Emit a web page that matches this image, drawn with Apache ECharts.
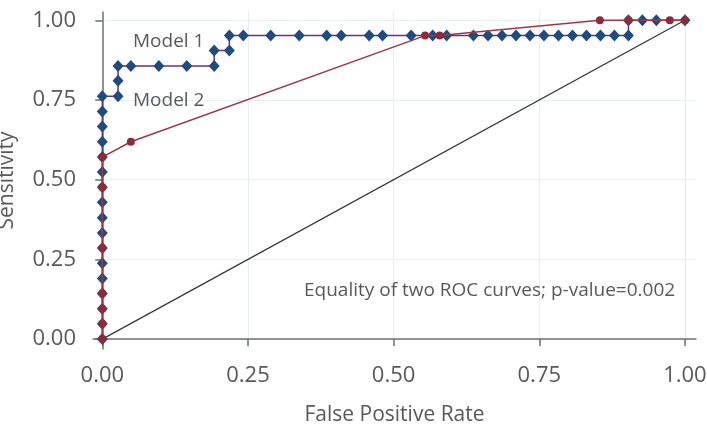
<!DOCTYPE html>
<html>
<head>
<meta charset="utf-8">
<script src="https://cdn.jsdelivr.net/npm/echarts@6/dist/echarts.min.js"></script>
<style>
  html, body { margin: 0; padding: 0; background: #fff; }
  #chart { width: 707px; height: 447px; }
</style>
</head>
<body>
<div id="chart"></div>
<script>
// ROC points
const model1Fpr = [0, 0, 0, 0, 0, 0, 0, 0, 0, 0, 0, 0, 0, 0, 0, 0, 0,
  0.027, 0.027, 0.027, 0.049, 0.097, 0.145, 0.192, 0.192, 0.218, 0.218, 0.242,
  0.289, 0.338, 0.385, 0.410, 0.458, 0.481, 0.530, 0.567, 0.591, 0.637, 0.662,
  0.686, 0.710, 0.734, 0.758, 0.783, 0.807, 0.831, 0.855, 0.879, 0.903, 0.903,
  0.927, 0.951, 1];
const model1Sens = [0, 0.048, 0.095, 0.143, 0.190, 0.238, 0.286, 0.333, 0.381, 0.429, 0.476, 0.524, 0.571, 0.619, 0.667, 0.714, 0.762,
  0.762, 0.810, 0.857, 0.857, 0.857, 0.857, 0.857, 0.905, 0.905, 0.952, 0.952,
  0.952, 0.952, 0.952, 0.952, 0.952, 0.952, 0.952, 0.952, 0.952, 0.952, 0.952,
  0.952, 0.952, 0.952, 0.952, 0.952, 0.952, 0.952, 0.952, 0.952, 0.952, 1,
  1, 1, 1];

const model2Fpr = [0, 0, 0, 0, 0, 0, 0, 0.049, 0.554, 0.579, 0.854, 0.903, 0.974, 1];
const model2Sens = [0, 0.048, 0.095, 0.143, 0.286, 0.476, 0.571, 0.619, 0.952, 0.952, 1, 1, 1, 1];

const refX = [0, 1];
const refY = [0, 1];

const tickValues = [0, 0.25, 0.5, 0.75, 1];

const font = '"Open Sans", "Noto Sans", sans-serif';
const textGrey = '#595959';

const zip = (xs, ys) => xs.map((x, i) => [x, ys[i]]);

const chart = echarts.init(document.getElementById('chart'));
chart.setOption({
  animation: false,
  backgroundColor: '#fff',
  grid: { left: 93, right: 11, top: 12, bottom: 98, outerBoundsMode: 'none', containLabel: false },
  xAxis: {
    type: 'value',
    min: -0.016,
    max: 1.019,
    name: 'False Positive Rate',
    nameLocation: 'middle',
    nameGap: 56,
    nameTextStyle: { color: textGrey, fontSize: 21, fontFamily: font },
    axisLine: { show: true, lineStyle: { color: '#707070', width: 1.5 } },
    axisTick: { show: true, length: 7, customValues: tickValues, lineStyle: { color: '#707070', width: 1.5 } },
    axisLabel: {
      customValues: tickValues, margin: 16, color: textGrey, fontSize: 22, fontFamily: font,
      formatter: v => v.toFixed(2)
    },
    splitLine: { show: true, lineStyle: { color: '#e6eef2', width: 1 } }
  },
  yAxis: {
    type: 'value',
    min: -0.031,
    max: 1.026,
    name: 'Sensitivity',
    nameLocation: 'middle',
    nameGap: 75,
    nameTextStyle: { color: textGrey, fontSize: 21, fontFamily: font },
    axisLine: { show: true, lineStyle: { color: '#707070', width: 1.5 } },
    axisTick: { show: true, length: 7, customValues: tickValues, lineStyle: { color: '#707070', width: 1.5 } },
    axisLabel: {
      customValues: tickValues, margin: 17, color: textGrey, fontSize: 22, fontFamily: font,
      formatter: v => v.toFixed(2)
    },
    splitLine: { show: true, lineStyle: { color: '#e6eef2', width: 1 } }
  },
  graphic: [
    { type: 'text', z: 100, left: 133, top: 32, style: { text: 'Model 1', fill: textGrey, fontSize: 19, fontFamily: font } },
    { type: 'text', z: 100, left: 133, top: 91, style: { text: 'Model 2', fill: textGrey, fontSize: 19, fontFamily: font } },
    { type: 'text', z: 100, left: 304, top: 281, style: { text: 'Equality of two ROC curves; p-value=0.002', fill: textGrey, fontSize: 19, fontFamily: font } }
  ],
  series: [
    {
      name: 'Reference',
      type: 'line',
      data: zip(refX, refY),
      showSymbol: false,
      lineStyle: { color: '#333333', width: 1.2 },
      z: 1
    },
    {
      name: 'Model 1',
      type: 'line',
      data: zip(model1Fpr, model1Sens),
      symbol: 'diamond',
      symbolSize: [11, 12],
      itemStyle: { color: '#1f4b7f' },
      lineStyle: { color: '#6a2f80', width: 1.5 },
      z: 2
    },
    {
      name: 'Model 2',
      type: 'line',
      data: zip(model2Fpr, model2Sens),
      symbol: 'circle',
      symbolSize: 8,
      itemStyle: { color: '#8e2a3c' },
      lineStyle: { color: '#9a3a48', width: 1.5 },
      z: 3
    }
  ]
});
</script>
</body>
</html>
